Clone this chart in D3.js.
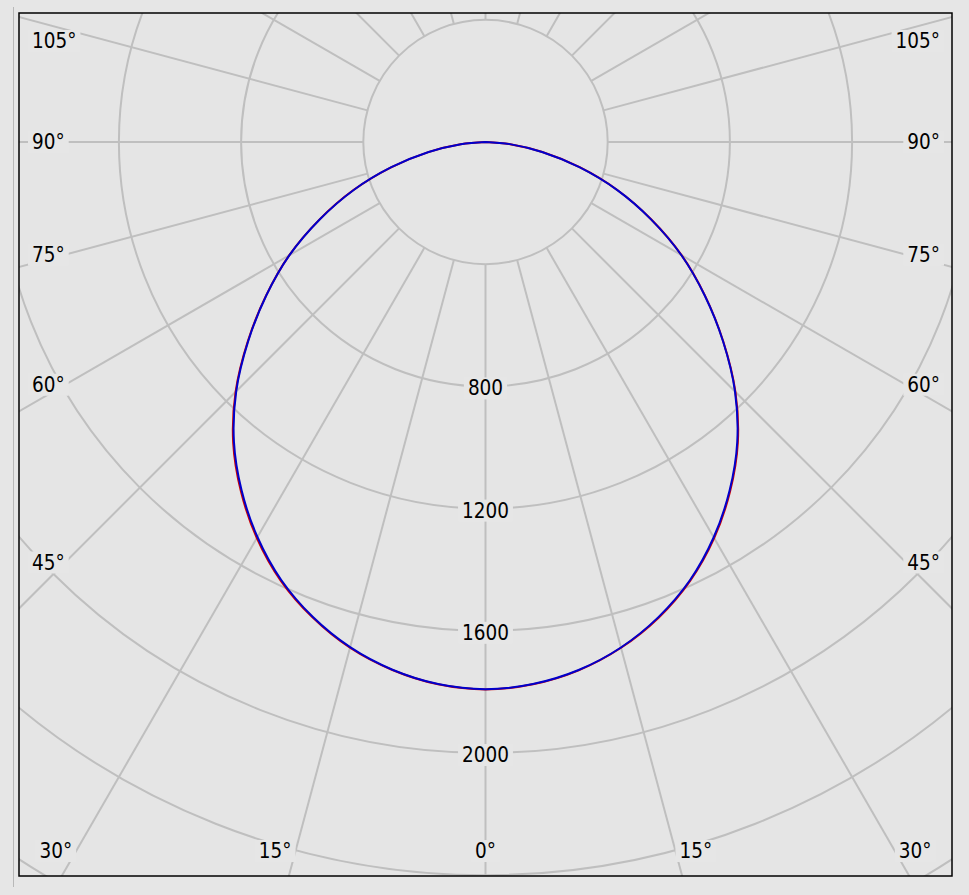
<!DOCTYPE html>
<html><head><meta charset="utf-8">
<script src="https://cdn.jsdelivr.net/npm/d3@7"></script>
<style>html,body{margin:0;padding:0;background:#e6e6e6;overflow:hidden}</style>
</head><body><svg id="chart" width="969" height="895"></svg>
<script>
// Photometric data: gamma angle (deg) and luminous intensity (cd)
const gammaDeg  = [0, 5, 10, 15, 20, 25, 30, 35, 40, 45, 50, 55, 60, 65, 70, 75, 80, 85, 90];
const planeC0   = [1791, 1781, 1755, 1713, 1655, 1583, 1494, 1393, 1282, 1155, 1015, 876, 740, 597, 458, 318, 188, 80, 0]; // blue, right half
const planeC180 = [1791, 1781, 1754, 1712, 1654, 1582, 1493, 1392, 1281, 1154, 1014, 876, 741, 598, 459, 319, 189, 81, 0]; // blue, left half
const planeC90  = [1792, 1782, 1756, 1714, 1657, 1585, 1497, 1396, 1285, 1157, 1016, 877, 741, 598, 459, 319, 189, 81, 0]; // red, right half
const planeC270 = [1792, 1782, 1755, 1714, 1656, 1585, 1497, 1396, 1285, 1157, 1016, 877, 742, 599, 460, 320, 190, 82, 0]; // red, left half

const ringValues   = [400, 800, 1200, 1600, 2000, 2400, 2800, 3200, 3600];
const ringLabels   = [800, 1200, 1600, 2000];
const gridAngles   = [0, 15, 30, 45, 60, 75, 90, 105, 120, 135, 150, 165, 180];
const angleLabels  = [0, 15, 30, 45, 60, 75, 90, 105];

const W = 969, H = 895;
const CX = 485.5, CY = 142;
const frame = {x: 19, y: 13, w: 933, h: 863};
const BG = "#e6e6e6", GRID = "#bfbfbf";
const FONT = "'DejaVu Sans Condensed', 'DejaVu Sans', sans-serif";
const FS = 20.5;

const r = d3.scaleLinear().domain([0, 2000]).range([0, 611]);
const rad = d => d * Math.PI / 180;

const svg = d3.select("#chart");
svg.append("rect").attr("width", W).attr("height", H).attr("fill", BG);
svg.append("line").attr("x1", 13.5).attr("x2", 13.5).attr("y1", 7).attr("y2", 887)
  .attr("stroke", "#b8b8b8").attr("stroke-width", 1);

svg.append("clipPath").attr("id", "clipFrame").append("rect")
  .attr("x", frame.x).attr("y", frame.y).attr("width", frame.w).attr("height", frame.h);

const plot = svg.append("g").attr("clip-path", "url(#clipFrame)");
plot.append("rect").attr("x", frame.x).attr("y", frame.y).attr("width", frame.w).attr("height", frame.h)
  .attr("fill", "#e5e5e5");

const g = plot.append("g").attr("transform", `translate(${CX},${CY})`);

// rings
g.selectAll("circle.ring").data(ringValues).join("circle")
  .attr("class", "ring").attr("r", d => r(d))
  .attr("fill", "none").attr("stroke", GRID).attr("stroke-width", 2);

// radial lines
const spokes = [];
gridAngles.forEach(a => {
  [-1, 1].forEach(s => {
    if ((a === 0 || a === 180) && s === 1) return;
    spokes.push({a, s});
  });
});
const rMin = r(400), rMax = r(4400);
g.selectAll("line.spoke").data(spokes).join("line")
  .attr("class", "spoke")
  .attr("x1", d => d.s * rMin * Math.sin(rad(d.a)))
  .attr("y1", d => rMin * Math.cos(rad(d.a)))
  .attr("x2", d => d.s * rMax * Math.sin(rad(d.a)))
  .attr("y2", d => rMax * Math.cos(rad(d.a)))
  .attr("stroke", GRID).attr("stroke-width", 2);

// curves: lineRadial angle measured clockwise from 12 o'clock
function curvePoints(right, left) {
  const pts = [];
  for (let i = gammaDeg.length - 1; i >= 0; i--) pts.push({a: Math.PI + rad(gammaDeg[i]), v: left[i]});
  for (let i = 1; i < gammaDeg.length; i++) pts.push({a: Math.PI - rad(gammaDeg[i]), v: right[i]});
  return pts;
}
const lineGen = d3.lineRadial().angle(d => d.a).radius(d => r(d.v)).curve(d3.curveCatmullRom.alpha(0.5));

g.append("path").datum(curvePoints(planeC90, planeC270)).attr("d", lineGen)
  .attr("fill", "none").attr("stroke", "#d00000").attr("stroke-width", 2);
g.append("path").datum(curvePoints(planeC0, planeC180)).attr("d", lineGen)
  .attr("fill", "none").attr("stroke", "#0000cc").attr("stroke-width", 2);

// label helper with background
function label(parent, x, y, txt, anchor) {
  const grp = parent.append("g");
  const bg = grp.append("rect").attr("fill", BG);
  const t = grp.append("text").attr("x", x).attr("y", y).text(txt)
    .attr("text-anchor", anchor).attr("dominant-baseline", "central")
    .attr("font-family", FONT).attr("font-size", FS).attr("fill", "#000");
  return {grp, bg, t};
}
function fitBg(o) {
  const b = o.t.node().getBBox();
  o.bg.attr("x", b.x - 4).attr("y", b.y + 1).attr("width", b.width + 8).attr("height", b.height - 2);
}

// ring value labels on the 0° axis
ringLabels.forEach(v => {
  const o = label(plot, CX, CY + r(v) + 2, String(v), "middle");
  fitBg(o);
});

// angle labels
const L = 32, R = 940, BOT = 851;
angleLabels.forEach(a => {
  const txt = a + "°";
  if (a === 0) { fitBg(label(plot, CX, BOT, txt, "middle")); return; }
  [-1, 1].forEach(s => {
    let o;
    if (a <= 30) {
      const dx = (BOT - CY) * Math.tan(rad(a));
      o = label(plot, CX + s * (dx + 4), BOT, txt, s < 0 ? "end" : "start");
      const b = o.t.node().getBBox();
      if (s < 0 && b.x < L) o.t.attr("x", +o.t.attr("x") + (L + 4 - b.x));
      if (s > 0 && b.x + b.width > R) o.t.attr("x", +o.t.attr("x") - (b.x + b.width - R + 4));
    } else {
      let y = CY + (CX - 65) * Math.cos(rad(a)) / Math.sin(rad(a));
      y = Math.max(41, y);
      o = label(plot, s < 0 ? L : R, y, txt, s < 0 ? "start" : "end");
    }
    fitBg(o);
  });
});

// frame
svg.append("rect").attr("x", frame.x).attr("y", frame.y).attr("width", frame.w).attr("height", frame.h)
  .attr("fill", "none").attr("stroke", "#000").attr("stroke-width", 1.5);
</script></body></html>
